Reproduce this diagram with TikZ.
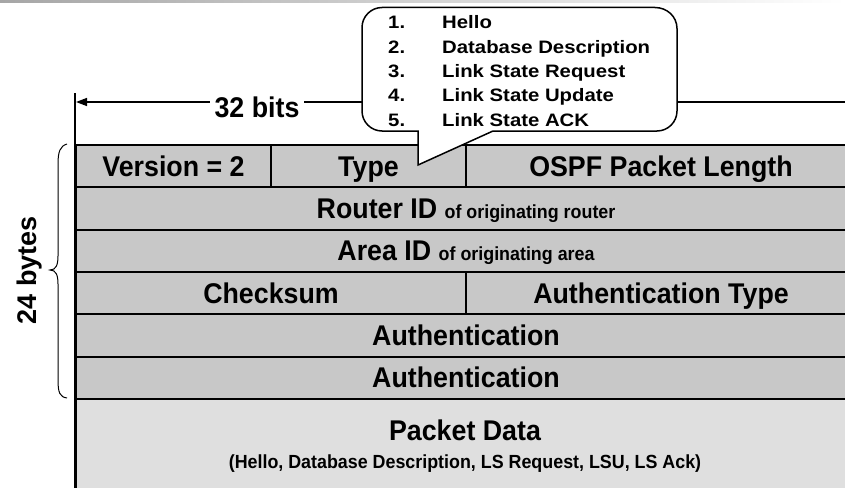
\documentclass[tikz,border=0pt]{standalone}
\usepackage{fontspec}
\setmainfont{Liberation Sans}[FakeStretch=0.94]
\newfontfamily\plainsans{Liberation Sans}
\newfontfamily\bubfont{Liberation Sans}[FakeStretch=1.13]
\usetikzlibrary{arrows.meta}
\definecolor{rowgray}{RGB}{200,200,200}
\definecolor{datagray}{RGB}{223,223,223}
\definecolor{topgray}{RGB}{166,166,166}
\begin{document}
\begin{tikzpicture}[x=1pt,y=-1pt,
  bigfont/.style={font=\bfseries\fontsize{28.5}{32}\selectfont},
  cell/.style={draw=black, line width=2pt, fill=rowgray, anchor=north west,
    minimum height=42.3pt, inner sep=0pt, text height=20.4pt, text depth=0pt, bigfont},
  small/.style={font=\bfseries\fontsize{19}{22}\selectfont},
  bubtxt/.style={anchor=base west, inner sep=0pt, font=\bubfont\bfseries\fontsize{18}{21}\selectfont}]
\useasboundingbox (0,0) rectangle (845,487);
\shade[left color=topgray, right color=white] (0,0) rectangle (845,3);

% rows
\node[cell, minimum width=195pt] (ver) at (75,144) {Version = 2};
\node[cell, minimum width=195pt] (type) at (270,144) {Type};
\node[cell, minimum width=390pt] (len) at (465,144) {OSPF Packet Length};
\node[cell, minimum width=780pt] (rid) at (75,186.3) {Router ID {\fontsize{19}{22}\selectfont of originating router}};
\node[cell, minimum width=780pt] (aid) at (75,228.6) {Area ID {\fontsize{19}{22}\selectfont of originating area}};
\node[cell, minimum width=390pt] (chk) at (75,271) {Checksum};
\node[cell, minimum width=390pt] (aut) at (465,271) {Authentication Type};
\node[cell, minimum width=780pt] (au1) at (75,313.3) {Authentication};
\node[cell, minimum width=780pt] (au2) at (75,355.6) {Authentication};
\node[cell, minimum width=780pt, minimum height=110pt, fill=datagray, text height=0pt] (data) at (75,398) {};
\node[bigfont, text height=20.4pt, text depth=0pt, inner sep=0pt] (pd) at (465,430) {Packet Data};
\node[small] (pds) at (465,464) {(Hello, Database Description, LS Request, LSU, LS Ack)};

% left vertical line
\coordinate (vt) at (75,93);
\coordinate (vb) at (75,495);
\draw[line width=2pt] (vt) -- (vb);

% 32 bits arrow
\coordinate (al) at (76,102);
\coordinate (ar) at (870,102);
\draw[line width=1.5pt, {Triangle[length=11pt,width=8pt]}-] (al) -- (ar);
\node[fill=white, inner xsep=5pt, inner ysep=3pt, bigfont, text height=20.4pt, text depth=0pt] (bits) at (257,107) {32 bits};

% brace
\draw[line width=1pt] (67,144) .. controls (60,146) and (58,152) .. (58,164) -- (58,256)
  .. controls (58,265) and (56,270) .. (50,270) .. controls (56,270) and (58,275) .. (58,284)
  -- (58,380) .. controls (58,393) and (60,397) .. (67,398);
\node[rotate=90, font=\plainsans\bfseries\fontsize{27}{30}\selectfont] (bytes) at (30,270) {24 bytes};

% callout bubble
\draw[line width=1.5pt, fill=white, line join=miter]
  (418,165) -- (418,131) -- (382,131) .. controls (371,131) and (362,122) .. (362,111)
  -- (362,27.5) .. controls (362,16.5) and (371,7.5) .. (382,7.5)
  -- (655,7.5) .. controls (667,7.5) and (677,16.5) .. (677,28.5)
  -- (677,111) .. controls (677,122) and (668,131) .. (657,131) -- (493,131) -- cycle;
\node[bubtxt] (n1) at (388,29) {1.};
\node[bubtxt] (t1) at (442,29) {Hello};
\node[bubtxt] (n2) at (388,53.3) {2.};
\node[bubtxt] (t2) at (442,53.3) {Database Description};
\node[bubtxt] (n3) at (388,77.6) {3.};
\node[bubtxt] (t3) at (442,77.6) {Link State Request};
\node[bubtxt] (n4) at (388,101.9) {4.};
\node[bubtxt] (t4) at (442,101.9) {Link State Update};
\node[bubtxt] (n5) at (388,126.2) {5.};
\node[bubtxt] (t5) at (442,126.2) {Link State ACK};
\end{tikzpicture}
\end{document}
